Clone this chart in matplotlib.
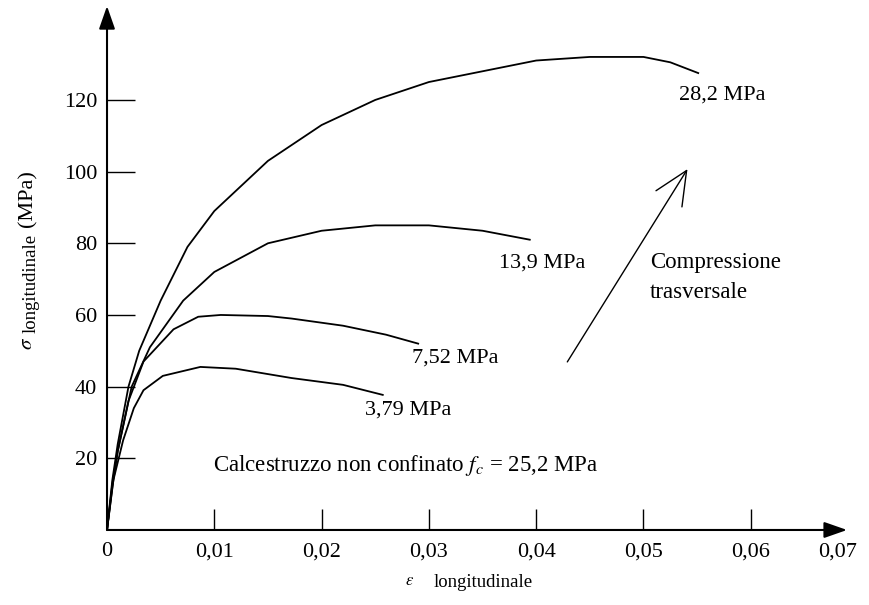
import matplotlib
matplotlib.use("Agg")
import matplotlib.pyplot as plt

plt.rcParams['font.family'] = ['Liberation Serif', 'DejaVu Serif']
plt.rcParams['mathtext.fontset'] = 'stix'

# curves (strain, stress MPa)
eps_282 = [0, 0.0005, 0.001, 0.002, 0.003, 0.005, 0.0075, 0.01, 0.015, 0.02, 0.025, 0.03, 0.035, 0.04, 0.045, 0.05, 0.0525, 0.0551]
sig_282 = [0, 14, 24, 40, 50, 64, 79, 89, 103, 113, 120, 125, 128, 131, 132, 132, 130.5, 127.5]

eps_139 = [0, 0.0005, 0.001, 0.0023, 0.004, 0.0071, 0.01, 0.015, 0.02, 0.025, 0.03, 0.035, 0.0394]
sig_139 = [0, 13, 22, 40, 51, 64, 72, 80, 83.5, 85, 85, 83.5, 81]

eps_752 = [0, 0.0005, 0.001, 0.002, 0.0034, 0.0062, 0.0085, 0.0106, 0.015, 0.0172, 0.022, 0.026, 0.029]
sig_752 = [0, 12, 22, 36, 47, 56, 59.5, 60, 59.7, 59, 57, 54.5, 52]

eps_379 = [0, 0.0006, 0.0015, 0.0025, 0.0034, 0.0052, 0.0087, 0.012, 0.0172, 0.022, 0.0257]
sig_379 = [0, 14, 25, 34, 39, 43, 45.5, 45, 42.4, 40.5, 37.7]

curve_labels = ["28,2 MPa", "13,9 MPa", "7,52 MPa", "3,79 MPa"]
label_pos = [(0.0573, 121.5), (0.0406, 74.5), (0.0325, 48), (0.0281, 33.5)]

xticks = [0, 0.01, 0.02, 0.03, 0.04, 0.05, 0.06]
xticklabels = ["0", "0,01", "0,02", "0,03", "0,04", "0,05", "0,06"]
yticks = [20, 40, 60, 80, 100, 120]

fig = plt.figure(figsize=(8.7, 6.05), dpi=100)
ax = fig.add_axes([0.1230, 0.124, 0.8506, 0.866])
ax.set_xlim(0, 0.06897)
ax.set_ylim(0, 146.2)

for e, s in [(eps_282, sig_282), (eps_139, sig_139), (eps_752, sig_752), (eps_379, sig_379)]:
    ax.plot(e, s, color='black', lw=1.3, solid_joinstyle='round')

for txt, (x, y) in zip(curve_labels, label_pos):
    ax.text(x, y, txt, ha='center', va='center', fontsize=16)

# axes with arrows
for sp in ax.spines.values():
    sp.set_visible(False)
ax.annotate('', xy=(0, 1), xytext=(0, 0), xycoords='axes fraction',
            arrowprops=dict(arrowstyle='-|>,head_length=1.0,head_width=0.35', color='black', lw=1.5,
                            mutation_scale=14, shrinkA=0, shrinkB=0))
ax.annotate('', xy=(1, 0), xytext=(0, 0), xycoords='axes fraction',
            arrowprops=dict(arrowstyle='-|>,head_length=1.0,head_width=0.35', color='black', lw=1.5,
                            mutation_scale=14, shrinkA=0, shrinkB=0))

ax.set_xticks(xticks)
ax.set_xticklabels(xticklabels)
ax.set_yticks(yticks)
ax.tick_params(axis='x', direction='in', length=15, width=1, pad=9, labelsize=16)
ax.tick_params(axis='y', direction='in', length=20, width=1, pad=7, labelsize=16)
ax.set_yticks(yticks, minor=True)
ax.tick_params(axis='y', which='minor', direction='out', length=6, width=1)
ax.text(0.0681, -3.5, "0,07", ha='center', va='top', fontsize=16)

# arrow: transverse compression
ax.annotate('', xy=(0.0541, 100.7), xytext=(0.0429, 46.9),
            arrowprops=dict(arrowstyle='->,head_length=1.2,head_width=0.55', color='black', lw=1.0,
                            mutation_scale=20, shrinkA=0, shrinkB=0))
ax.text(0.0506, 70.4, "Compressione\ntrasversale", ha='left', va='center', fontsize=16.5, linespacing=1.55)

ax.text(0.0099, 18, "Calcestruzzo non confinato $f_c$ = 25,2 MPa", ha='left', va='center', fontsize=16.5)

# axis labels
fig.text(0.032, 0.433, r"$\sigma$", rotation=90, ha='center', va='center', fontsize=15)
fig.text(0.036, 0.532, "longitudinale", rotation=90, ha='center', va='center', fontsize=13.5)
fig.text(0.032, 0.671, "(MPa)", rotation=90, ha='center', va='center', fontsize=16)
fig.text(0.471, 0.040, r"$\varepsilon$", ha='center', va='center', fontsize=12)
fig.text(0.555, 0.037, "longitudinale", ha='center', va='center', fontsize=13.5)

fig.savefig("out.png", dpi=100)
